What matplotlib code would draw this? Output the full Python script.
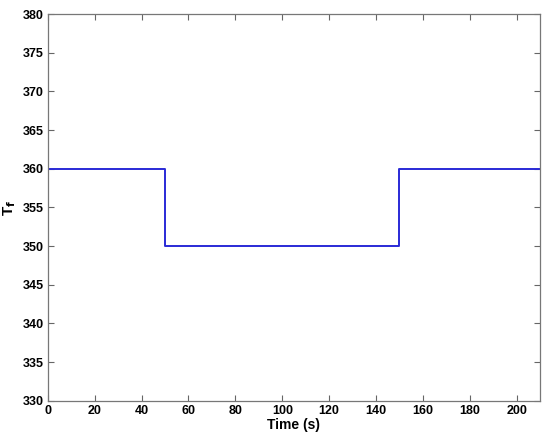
import matplotlib
matplotlib.use('Agg')
import matplotlib.pyplot as plt

# step profile of T_f over time
time_s = [0, 50, 50, 150, 150, 210]
tf_vals = [360, 360, 350, 350, 360, 360]

xticks = [0, 20, 40, 60, 80, 100, 120, 140, 160, 180, 200]
yticks = [330, 335, 340, 345, 350, 355, 360, 365, 370, 375, 380]

plt.rcParams['font.family'] = ['Liberation Sans', 'DejaVu Sans']
plt.rcParams['font.weight'] = 'bold'

fig = plt.figure(figsize=(5.5, 4.4), dpi=100)
ax = fig.add_axes([0.087, 0.089, 0.895, 0.879])

ax.plot(time_s, tf_vals, color='#2a2ad6', linewidth=1.4)

ax.set_xlim(0, 210)
ax.set_ylim(330, 380)
ax.set_xticks(xticks)
ax.set_yticks(yticks)
ax.tick_params(direction='in', top=True, right=True, length=4, width=0.8,
               color='#666666', labelsize=9, pad=3)
for lab in ax.get_xticklabels() + ax.get_yticklabels():
    lab.set_fontweight('bold')
for sp in ax.spines.values():
    sp.set_color('#777777')
    sp.set_linewidth(0.9)

ax.set_xlabel('Time (s)', fontsize=10, fontweight='bold', labelpad=1)
ax.set_ylabel(r'T$_\mathbf{f}$', fontsize=11, fontweight='bold', labelpad=3)

fig.savefig('out.png', dpi=100)
